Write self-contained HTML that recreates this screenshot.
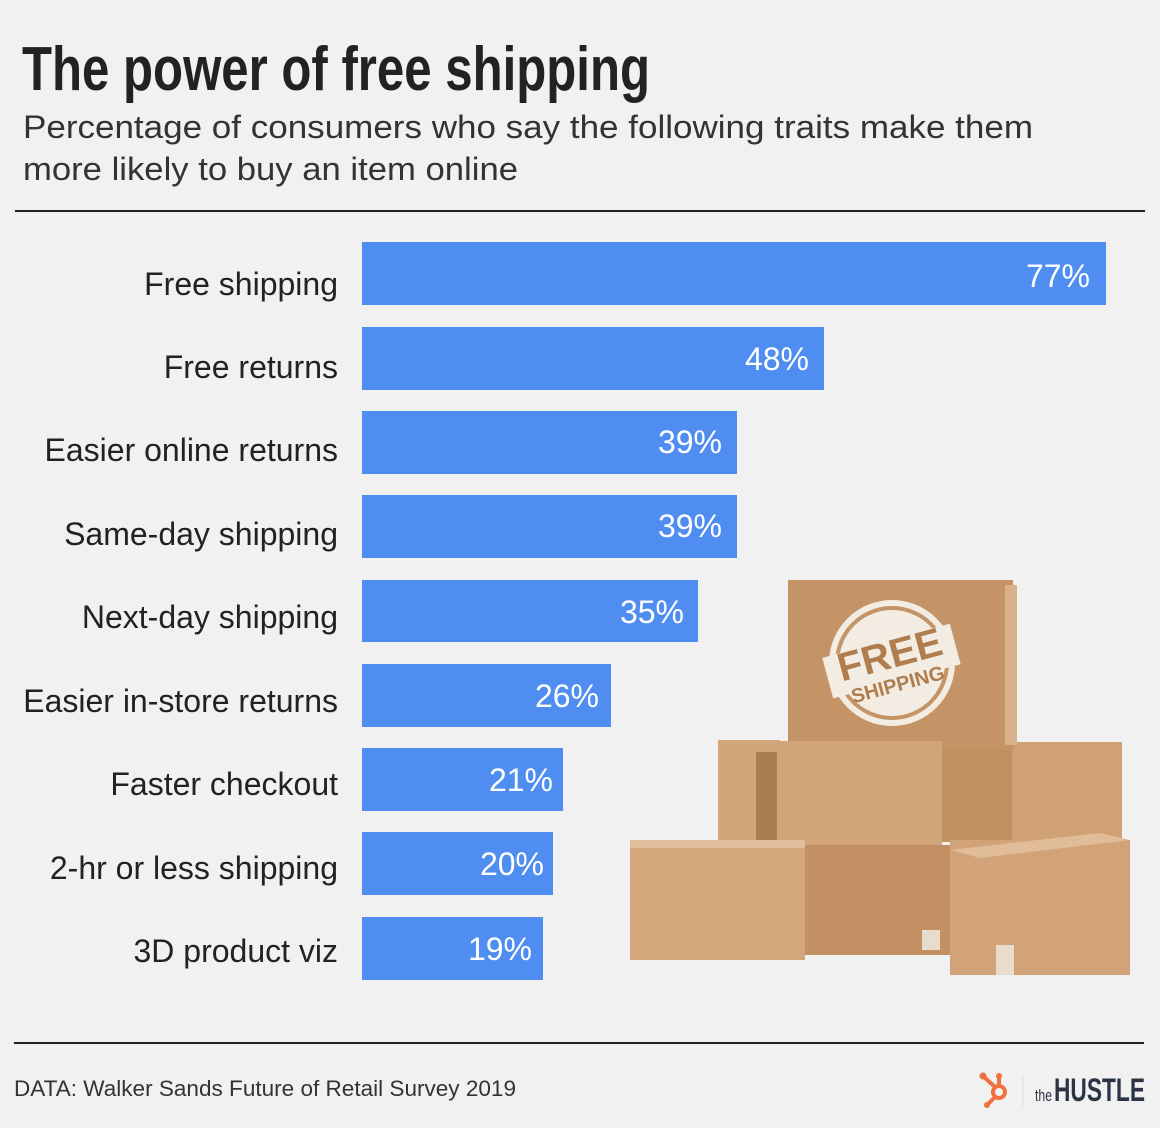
<!DOCTYPE html>
<html><head><meta charset="utf-8"><style>
body{margin:0;background:#f1f1f1;}
svg{display:block;}
text{font-family:"Liberation Sans",sans-serif;}
</style></head><body>
<svg width="1160" height="1128" viewBox="0 0 1160 1128">
<rect width="1160" height="1128" fill="#f1f1f1"/>
<text x="22" y="90" font-family="Liberation Sans Narrow, Liberation Sans, sans-serif" font-weight="bold" font-size="62" fill="#222" textLength="628" lengthAdjust="spacingAndGlyphs">The power of free shipping</text>
<text x="23" y="138" font-size="32" fill="#333" textLength="1010" lengthAdjust="spacingAndGlyphs">Percentage of consumers who say the following traits make them</text>
<text x="23" y="180" font-size="32" fill="#333" textLength="495" lengthAdjust="spacingAndGlyphs">more likely to buy an item online</text>
<line x1="15" y1="211" x2="1145" y2="211" stroke="#222" stroke-width="2"/>

<g stroke="none">
<rect x="718" y="740" width="62" height="102" fill="#d2a57a"/>
<rect x="756" y="752" width="24" height="90" fill="#a97c52"/>
<rect x="942" y="742" width="180" height="100" fill="#cfa175"/>
<rect x="942" y="742" width="70" height="100" fill="#bf915f"/>
<rect x="788" y="580" width="225" height="170" fill="#c59466"/>
<rect x="1005" y="585" width="12" height="160" fill="#d8b08a"/>
<circle cx="892" cy="663" r="63" fill="#f3ece2"/>
<circle cx="892" cy="663" r="55" fill="none" stroke="#c59466" stroke-width="4"/>
<g transform="rotate(-15 892 663)">
<rect x="826" y="640" width="132" height="42" fill="#f3ece2"/>
<text x="892" y="668" text-anchor="middle" font-family="Liberation Sans Narrow, Liberation Sans, sans-serif" font-weight="bold" font-size="40" fill="#b07d4f">FREE</text>
<text x="892" y="692" text-anchor="middle" font-family="Liberation Sans Narrow, Liberation Sans, sans-serif" font-weight="bold" font-size="20" fill="#b07d4f">SHIPPING</text>
</g>
<rect x="777" y="741" width="165" height="104" fill="#d1a47a"/>
<rect x="805" y="845" width="145" height="110" fill="#c29063"/>
<rect x="630" y="840" width="175" height="120" fill="#d3a67b"/>
<rect x="630" y="840" width="175" height="8" fill="#e2bf9c"/>
<rect x="950" y="840" width="180" height="135" fill="#d2a379"/>
<polygon points="950,850 1100,833 1130,840 980,858" fill="#e0bc98"/>
<rect x="996" y="945" width="18" height="30" fill="#e8dccc"/>
<rect x="922" y="930" width="18" height="20" fill="#e8dccc"/>
</g>

<g fill="#4f8ef0">
<rect x="362" y="242" width="744" height="63"/>
<rect x="362" y="327" width="462" height="63"/>
<rect x="362" y="411" width="375" height="63"/>
<rect x="362" y="495" width="375" height="63"/>
<rect x="362" y="580" width="336" height="62"/>
<rect x="362" y="664" width="249" height="63"/>
<rect x="362" y="748" width="201" height="63"/>
<rect x="362" y="832" width="191" height="63"/>
<rect x="362" y="917" width="181" height="63"/>
</g>
<g font-size="32" fill="#222" text-anchor="end">
<text x="338" y="295">Free shipping</text>
<text x="338" y="378">Free returns</text>
<text x="338" y="461">Easier online returns</text>
<text x="338" y="545">Same-day shipping</text>
<text x="338" y="628">Next-day shipping</text>
<text x="338" y="712">Easier in-store returns</text>
<text x="338" y="795">Faster checkout</text>
<text x="338" y="879">2-hr or less shipping</text>
<text x="338" y="962">3D product viz</text>
</g>
<g font-size="32" fill="#fff" text-anchor="end">
<text x="1090" y="287">77%</text>
<text x="809" y="370">48%</text>
<text x="722" y="453">39%</text>
<text x="722" y="537">39%</text>
<text x="684" y="623">35%</text>
<text x="599" y="707">26%</text>
<text x="553" y="791">21%</text>
<text x="544" y="875">20%</text>
<text x="532" y="960">19%</text>
</g>

<line x1="14" y1="1043" x2="1144" y2="1043" stroke="#222" stroke-width="2"/>
<text x="14" y="1096" font-size="22" fill="#333" textLength="502" lengthAdjust="spacingAndGlyphs">DATA: Walker Sands Future of Retail Survey 2019</text>
<g stroke="#f0713f" stroke-width="4" fill="none">
<circle cx="999" cy="1092" r="6"/>
<line x1="984" y1="1077" x2="995" y2="1087"/>
<line x1="999" y1="1078" x2="999" y2="1086"/>
<line x1="995" y1="1097" x2="988" y2="1104"/>
</g>
<circle cx="983" cy="1076" r="3.5" fill="#f0713f"/>
<circle cx="999" cy="1076" r="3" fill="#f0713f"/>
<circle cx="987" cy="1105" r="3" fill="#f0713f"/>
<line x1="1023" y1="1076" x2="1023" y2="1106" stroke="#ddd" stroke-width="1"/>
<text x="1035" y="1101" font-family="Liberation Sans Narrow, Liberation Sans, sans-serif" font-size="17" fill="#2a3444" textLength="17" lengthAdjust="spacingAndGlyphs">the</text>
<text x="1054" y="1101" font-family="Liberation Sans Narrow, Liberation Sans, sans-serif" font-weight="bold" font-size="32" fill="#2a3444" textLength="91" lengthAdjust="spacingAndGlyphs">HUSTLE</text>
</svg>
</body></html>
